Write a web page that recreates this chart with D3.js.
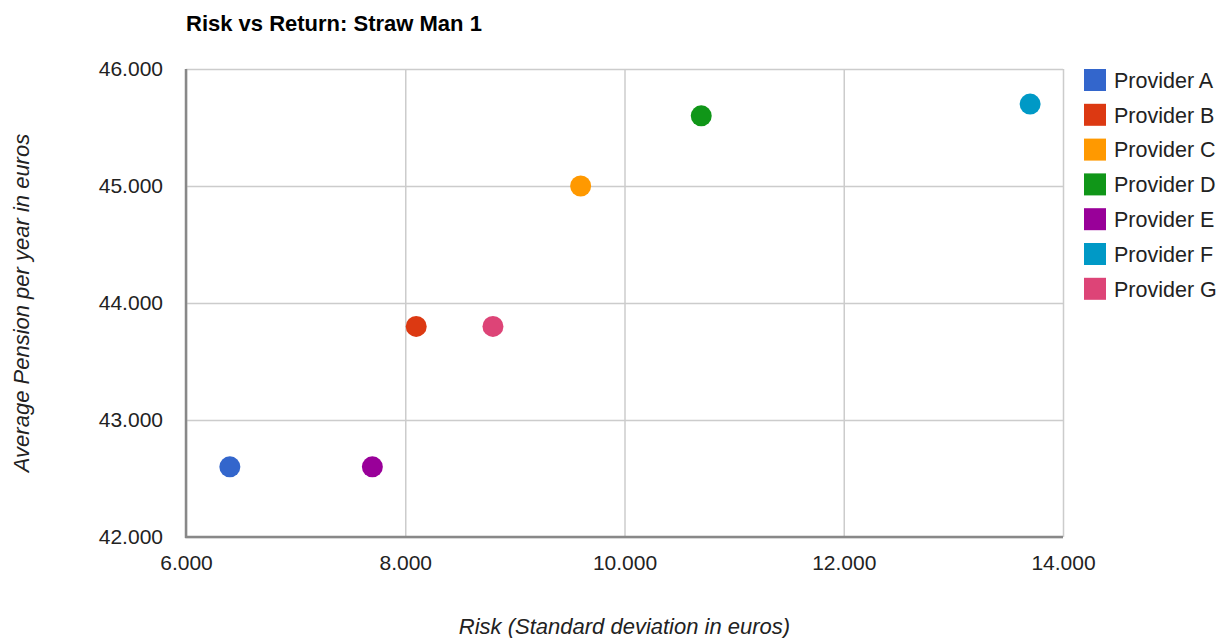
<!DOCTYPE html>
<html>
<head>
<meta charset="utf-8">
<script src="https://cdn.jsdelivr.net/npm/d3@7"></script>
<style>
  body { margin: 0; background: #fff; }
  svg { font-family: Arial, "Liberation Sans", sans-serif; }
</style>
</head>
<body>
<div id="chart"></div>
<script>
// Provider data: risk (std dev in euros) and average pension per year
const providers = ["Provider A", "Provider B", "Provider C", "Provider D", "Provider E", "Provider F", "Provider G"];
const riskValues = [6400, 8100, 9600, 10700, 7700, 13700, 8800];
const pensionValues = [42600, 43800, 45000, 45600, 42600, 45700, 43800];
const colors = ["#3366cc", "#dc3912", "#ff9900", "#109618", "#990099", "#0099c6", "#dd4477"];
const xTicks = [6000, 8000, 10000, 12000, 14000];
const yTicks = [42000, 43000, 44000, 45000, 46000];

const data = providers.map((name, i) => ({
    name: name,
    risk: riskValues[i],
    pension: pensionValues[i],
    color: colors[i]
}));

const width = 1226, height = 638;
const plotLeft = 186, plotRight = 1063, plotTop = 69, plotBottom = 537;

// thousands separator is a period
const locale = d3.formatLocale({ decimal: ",", thousands: ".", grouping: [3], currency: ["", "€"] });
const fmt = locale.format(",");

const svg = d3.select("#chart")
    .append("svg")
    .attr("width", width)
    .attr("height", height);

const x = d3.scaleLinear().domain([6000, 14000]).range([plotLeft, plotRight]);
const y = d3.scaleLinear().domain([42000, 46000]).range([plotBottom, plotTop]);

// Title
svg.append("text")
    .attr("x", plotLeft)
    .attr("y", 31)
    .style("font-size", "22px")
    .style("font-weight", "bold")
    .attr("fill", "#000")
    .text("Risk vs Return: Straw Man 1");

// Gridlines
svg.append("g")
    .attr("transform", `translate(0,${plotBottom})`)
    .call(d3.axisBottom(x).tickValues(xTicks).tickSize(-(plotBottom - plotTop)).tickFormat(""))
    .call(g => g.select(".domain").remove())
    .call(g => g.selectAll("line").attr("stroke", "#cccccc").attr("stroke-width", 1.5));

svg.append("g")
    .attr("transform", `translate(${plotLeft},0)`)
    .call(d3.axisLeft(y).tickValues(yTicks).tickSize(-(plotRight - plotLeft)).tickFormat(""))
    .call(g => g.select(".domain").remove())
    .call(g => g.selectAll("line").attr("stroke", "#cccccc").attr("stroke-width", 1.5));

// Axis baselines
svg.append("line")
    .attr("x1", plotLeft).attr("x2", plotLeft)
    .attr("y1", plotTop).attr("y2", plotBottom + 1)
    .attr("stroke", "#888").attr("stroke-width", 2.5);
svg.append("line")
    .attr("x1", plotLeft - 1).attr("x2", plotRight)
    .attr("y1", plotBottom).attr("y2", plotBottom)
    .attr("stroke", "#888").attr("stroke-width", 2.5);

// Tick labels
const xAxis = svg.append("g")
    .attr("transform", `translate(0,${plotBottom})`)
    .call(d3.axisBottom(x).tickValues(xTicks).tickSize(0).tickPadding(18).tickFormat(fmt));
xAxis.select(".domain").remove();
xAxis.selectAll("text")
    .style("font-size", "21px")
    .attr("fill", "#222")
    .attr("font-family", "Arial, 'Liberation Sans', sans-serif");

const yAxis = svg.append("g")
    .attr("transform", `translate(${plotLeft},0)`)
    .call(d3.axisLeft(y).tickValues(yTicks).tickSize(0).tickPadding(23).tickFormat(fmt));
yAxis.select(".domain").remove();
yAxis.selectAll("text")
    .style("font-size", "21px")
    .attr("fill", "#222")
    .attr("font-family", "Arial, 'Liberation Sans', sans-serif");

// Axis titles
svg.append("text")
    .attr("x", (plotLeft + plotRight) / 2)
    .attr("y", 634)
    .attr("text-anchor", "middle")
    .style("font-size", "22px")
    .style("font-style", "italic")
    .attr("fill", "#222")
    .text("Risk (Standard deviation in euros)");

svg.append("text")
    .attr("transform", `translate(29,${(plotTop + plotBottom) / 2}) rotate(-90)`)
    .attr("text-anchor", "middle")
    .style("font-size", "22px")
    .style("font-style", "italic")
    .attr("fill", "#222")
    .text("Average Pension per year in euros");

// Points
svg.selectAll(".dot")
    .data(data)
    .enter()
    .append("circle")
    .attr("class", "dot")
    .attr("cx", d => x(d.risk))
    .attr("cy", d => y(d.pension))
    .attr("r", 10.5)
    .attr("fill", d => d.color);

// Legend
const legend = svg.selectAll(".legend")
    .data(data)
    .enter()
    .append("g")
    .attr("class", "legend")
    .attr("transform", (d, i) => `translate(1084,${80 + i * 34.8})`);

legend.append("rect")
    .attr("x", 0)
    .attr("y", -11)
    .attr("width", 22)
    .attr("height", 22)
    .attr("fill", d => d.color);

legend.append("text")
    .attr("x", 30)
    .attr("y", 0)
    .attr("dy", "0.36em")
    .style("font-size", "21.5px")
    .attr("fill", "#222")
    .text(d => d.name);
</script>
</body>
</html>
